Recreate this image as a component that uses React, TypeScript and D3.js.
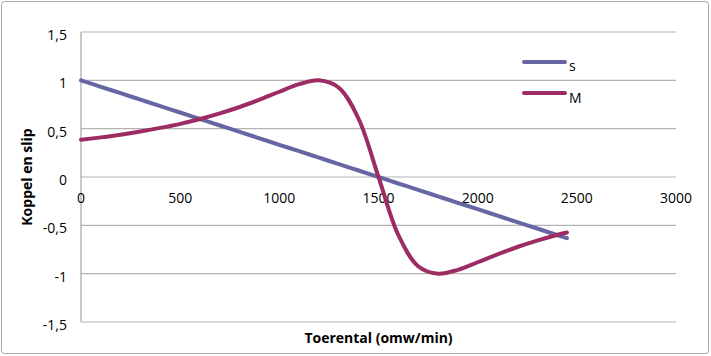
import React from "react";
import * as d3 from "d3";

const rpm = [0, 100, 200, 300, 400, 500, 600, 700, 800, 900, 1000, 1100, 1200, 1300, 1400, 1500, 1600, 1700, 1800, 1900, 2000, 2100, 2200, 2300, 2400, 2450];
const slip = [1, 0.933, 0.867, 0.8, 0.733, 0.667, 0.6, 0.533, 0.467, 0.4, 0.333, 0.267, 0.2, 0.133, 0.067, 0, -0.067, -0.133, -0.2, -0.267, -0.333, -0.4, -0.467, -0.533, -0.6, -0.633];
const torque = [0.385, 0.41, 0.438, 0.471, 0.508, 0.55, 0.6, 0.658, 0.724, 0.8, 0.882, 0.96, 1.0, 0.923, 0.6, 0, -0.6, -0.923, -1.0, -0.96, -0.882, -0.8, -0.724, -0.658, -0.6, -0.574];
const xTicks = [0, 500, 1000, 1500, 2000, 2500, 3000];
const yTicks = [1.5, 1, 0.5, 0, -0.5, -1, -1.5];
const yTickLabels = ["1,5", "1", "0,5", "0", "-0,5", "-1", "-1,5"];
const seriesNames = ["s", "M"];
const seriesColors = ["#6666a4", "#9c2c63"];

const W = 711;
const H = 356;
const FONT = "'Open Sans', sans-serif";

export default function App() {
  const x = d3.scaleLinear().domain([0, 3000]).range([81, 676]);
  const y = d3.scaleLinear().domain([-1.5, 1.5]).range([322, 32]);
  const line = d3
    .line<[number, number]>()
    .x((d) => x(d[0]))
    .y((d) => y(d[1]))
    .curve(d3.curveCatmullRom.alpha(0.5));
  const series = [slip, torque].map((vals) => vals.map((v, i) => [rpm[i], v] as [number, number]));

  return (
    <svg width={W} height={H} style={{ position: "absolute", left: 0, top: 0, display: "block" }} fontFamily={FONT}>
      <rect x={0} y={0} width={W} height={H} fill="#fff" />
      <rect x={1.5} y={1.5} width={707} height={352} rx={3} fill="none" stroke="#a6a6a6" strokeWidth={1} />
      {yTicks.map((t) => (
        <line key={"g" + t} x1={81} x2={676} y1={y(t)} y2={y(t)} stroke="#b3b3b3" strokeWidth={1.2} />
      ))}
      <line x1={81} x2={81} y1={y(1.5)} y2={y(-1.5)} stroke="#a6a6a6" strokeWidth={1.2} />
      {yTicks.map((t, i) => (
        <text key={"yl" + t} x={67} y={y(t) + 8} textAnchor="end" fontSize={14} fill="#000">
          {yTickLabels[i]}
        </text>
      ))}
      {xTicks.map((t) => (
        <text key={"xl" + t} x={x(t)} y={203} textAnchor="middle" fontSize={14} fill="#000">
          {t}
        </text>
      ))}
      {series.map((s, i) => (
        <path key={"s" + i} d={line(s) || ""} fill="none" stroke={seriesColors[i]} strokeWidth={4} strokeLinejoin="round" strokeLinecap="round" />
      ))}
      {seriesNames.map((n, i) => (
        <g key={"lg" + n}>
          <line x1={524} x2={565} y1={62 + i * 31} y2={62 + i * 31} stroke={seriesColors[i]} strokeWidth={4} strokeLinecap="round" />
          <text x={569} y={71 + i * 32} fontSize={14} fill="#000">
            {n}
          </text>
        </g>
      ))}
      <text x={378.5} y={343} textAnchor="middle" fontSize={14} fontWeight="bold" fill="#000">
        Toerental (omw/min)
      </text>
      <text transform={`translate(32,177) rotate(-90)`} textAnchor="middle" fontSize={14} fontWeight="bold" fill="#000">
        Koppel en slip
      </text>
    </svg>
  );
}
